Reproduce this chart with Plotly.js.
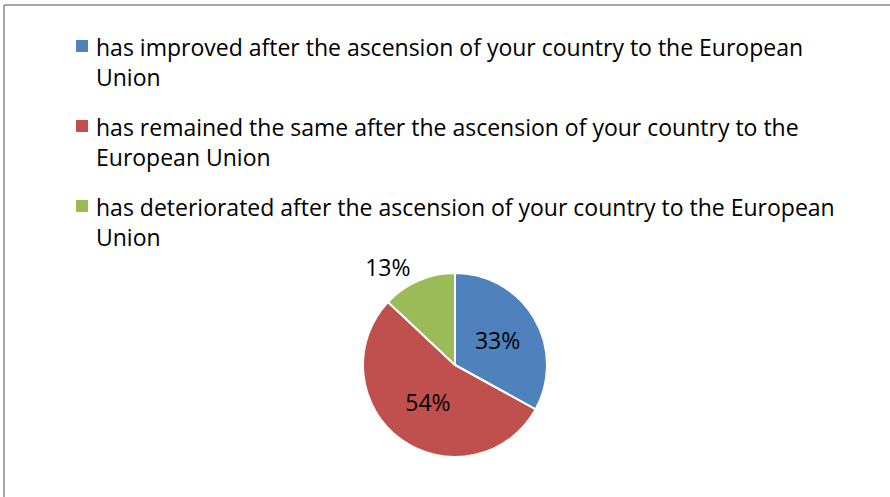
<!DOCTYPE html>
<html>
<head>
<meta charset="utf-8">
<script src="https://cdn.plot.ly/plotly-3.0.1.min.js"></script>
<style>
html,body{margin:0;padding:0;background:#fff;}
#chart{width:890px;height:497px;}
</style>
</head>
<body>
<div id="chart"></div>
<script>
const categories = [
  "has improved after the ascension of your country to the European<br>Union",
  "has remained the same after the ascension of your country to the<br>European Union",
  "has deteriorated after the ascension of your country to the European<br>Union"
];
const values = [33, 54, 13];
const colors = ["#4F81BD", "#C0504D", "#9BBB59"];
const textPositions = ["inside", "inside", "outside"];

const FONT = "Open Sans, sans-serif";
const W = 890, H = 497;

const trace = {
  type: "pie",
  labels: categories,
  values: values,
  sort: false,
  direction: "clockwise",
  rotation: 0,
  marker: {colors: colors, line: {color: "#ffffff", width: 2}},
  textinfo: "percent",
  texttemplate: "%{percent:.0%}",
  textposition: textPositions,
  insidetextorientation: "horizontal",
  textfont: {family: FONT, size: 23, color: "#000000"},
  outsidetextfont: {family: FONT, size: 23, color: "#000000"},
  domain: {x: [363/W, 547/W], y: [40/H, 224/H]},
  hoverinfo: "none",
  showlegend: false
};

// Legend drawn as text + colour squares (one entry per category)
const legendTopPx = 29, legendStepPx = 80;
const annotations = categories.map((c, i) => ({
  xref: "paper", yref: "paper",
  x: 94/W, y: 1 - (legendTopPx + i*legendStepPx)/H,
  xanchor: "left", yanchor: "top", align: "left",
  showarrow: false,
  text: c,
  font: {family: FONT, size: 23, color: "#000000"}
}));
const legendShapes = colors.map((col, i) => ({
  type: "rect", xref: "paper", yref: "paper",
  x0: 76/W, x1: 88/W,
  y0: 1 - (52 + i*legendStepPx)/H, y1: 1 - (40 + i*legendStepPx)/H,
  fillcolor: col, line: {width: 0}
}));

const layout = {
  width: W, height: H,
  margin: {l: 0, r: 0, t: 0, b: 0},
  paper_bgcolor: "#ffffff",
  showlegend: false,
  annotations: annotations,
  shapes: [
    {type: "line", xref: "paper", yref: "paper", x0: 4/W, x1: 4/W, y0: 0, y1: 1 - 5/H, line: {color: "#888888", width: 1.5}},
    {type: "line", xref: "paper", yref: "paper", x0: 4/W, x1: 1, y0: 1 - 5/H, y1: 1 - 5/H, line: {color: "#888888", width: 1.5}}
  ].concat(legendShapes)
};

Plotly.newPlot("chart", [trace], layout, {displayModeBar: false, staticPlot: true});
</script>
</body>
</html>
